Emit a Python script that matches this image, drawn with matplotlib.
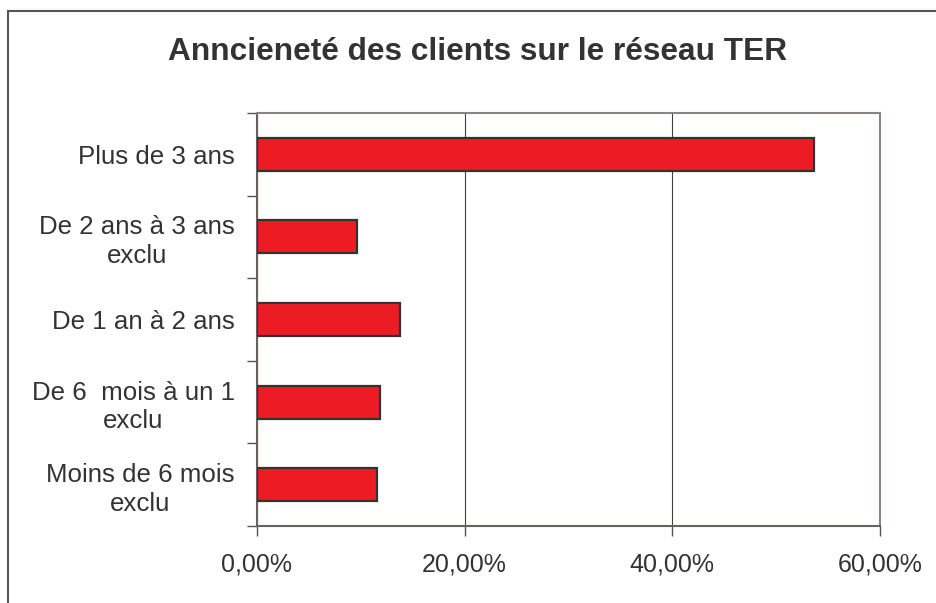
import matplotlib.pyplot as plt
from matplotlib.patches import Rectangle
from matplotlib.ticker import FuncFormatter

plt.rcParams['font.family'] = ['Liberation Sans', 'DejaVu Sans']

categories = ['Plus de 3 ans', 'De 2 ans à 3 ans\nexclu', 'De 1 an à 2 ans',
              'De 6  mois à un 1\nexclu', 'Moins de 6 mois\nexclu']
values = [53.6, 9.6, 13.8, 11.8, 11.6]
xticks = [0, 20, 40, 60]
title = 'Anncieneté des clients sur le réseau TER'

txt = '#333333'
fig = plt.figure(figsize=(9.37, 6.03), dpi=100)
ax = fig.add_axes([257/937, 1-526/603, (880-257)/937, (526-113)/603])

pos = list(range(len(categories)))
ax.barh(pos, values, height=0.4, color='#ED1C24', edgecolor='#333333', linewidth=1.6, zorder=3)
ax.set_ylim(len(categories)-0.5, -0.5)
ax.set_xlim(0, 60)

# x axis
ax.set_xticks(xticks)
ax.xaxis.set_major_formatter(FuncFormatter(lambda v, p: ('%.2f%%' % v).replace('.', ',')))
ax.tick_params(axis='x', length=7, width=1, color='#5a5050', labelsize=18, labelcolor=txt, pad=12)
ax.grid(axis='x', color='#404040', linewidth=0.8, zorder=0)

# y axis: labels at centers, ticks at boundaries
ax.set_yticks(pos)
ax.set_yticklabels(categories, multialignment='center', linespacing=1.25)
ax.tick_params(axis='y', which='major', length=0, labelsize=18.6, labelcolor=txt, pad=16)
ax.set_yticks([p - 0.5 for p in pos] + [len(pos) - 0.5], minor=True)
ax.tick_params(axis='y', which='minor', length=7, width=1, color='#5a5050')

for side in ['top', 'right']:
    ax.spines[side].set_color('#8c8480')
    ax.spines[side].set_linewidth(1.5)
for side in ['left', 'bottom']:
    ax.spines[side].set_color('#6b6060')
    ax.spines[side].set_linewidth(1.5)

fig.text(478/937, 1-52/603, title, ha='center', va='center', fontsize=22.8,
         fontweight='bold', color=txt)

# outer chart border (cut off at right and bottom)
fig.patches.append(Rectangle((8/937, -0.1), 1.2, 1.1 - 11/603, transform=fig.transFigure,
                             fill=False, edgecolor='#555555', linewidth=1.5))

fig.savefig('out.png', dpi=100)
